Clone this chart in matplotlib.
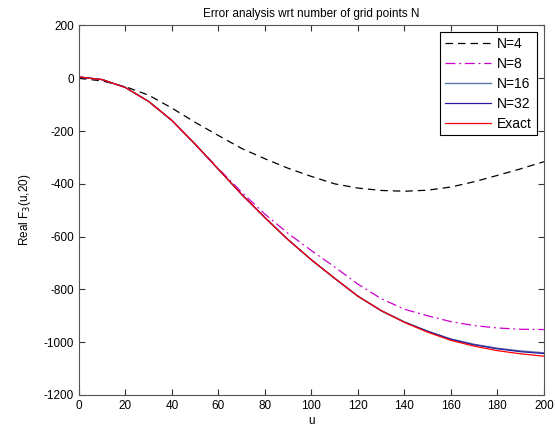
import matplotlib
matplotlib.use("Agg")
import matplotlib.pyplot as plt

# -------------------------------
# data
# -------------------------------
u = [0, 10, 20, 30, 40, 50, 60, 70, 80, 90, 100,
     110, 120, 130, 140, 150, 160, 170, 180, 190, 200]

n4 = [0, -10, -32, -64, -113, -167, -217, -266, -305, -341, -372,
      -400, -416, -425, -428, -424, -412, -392, -368, -343, -316]

n8 = [5, -5, -35, -88, -160, -250, -342, -432, -515, -588, -653,
      -715, -780, -835, -875, -900, -922, -937, -946, -951, -952]

n16 = [5, -5, -35, -88, -160, -250, -345, -440, -528, -612, -688,
       -758, -825, -880, -923, -958, -988, -1008, -1023, -1033, -1040]

n32 = [5, -5, -35, -88, -160, -250, -345, -440, -528, -612, -688,
       -758, -826, -881, -924, -959, -989, -1010, -1025, -1036, -1043]

exact = [5, -5, -35, -88, -160, -250, -345, -440, -528, -612, -688,
         -758, -826, -880, -925, -962, -993, -1015, -1032, -1044, -1053]

xticks = list(range(0, 201, 20))
yticks = list(range(-1200, 201, 200))

plt.rcParams['font.family'] = ['Liberation Sans', 'DejaVu Sans']
plt.rcParams['font.size'] = 8.5
plt.rcParams['axes.unicode_minus'] = False

fig = plt.figure(figsize=(5.55, 4.3), dpi=100)
ax = fig.add_axes([0.1423, 0.0814, 0.8377, 0.8593])

ax.plot(u, n4, color='black', linestyle=(0, (6, 4)), lw=0.9, label='N=4')
ax.plot(u, n8, color='#cc00cc', linestyle=(0, (8, 3, 1.5, 3)), lw=0.9, label='N=8')
ax.plot(u, n16, color='#5b77a8', lw=1.0, label='N=16')
ax.plot(u, n32, color='#2a1aa0', lw=0.9, label='N=32')
ax.plot(u, exact, color='red', lw=0.9, label='Exact')

ax.set_xlim(0, 200)
ax.set_ylim(-1200, 200)
ax.set_xticks(xticks)
ax.set_yticks(yticks)
ax.tick_params(direction='in', top=True, right=True, length=4,
               width=0.8, colors='#333333', labelcolor='black')
for s in ax.spines.values():
    s.set_color('#555555')
    s.set_linewidth(0.8)

ax.set_title('Error analysis wrt number of grid points N', fontsize=8.5, pad=6)
ax.set_xlabel('u', labelpad=2)
ax.set_ylabel('Real F$_3$(u,20)', labelpad=8)

leg = ax.legend(loc='upper right', fancybox=False, framealpha=1,
                edgecolor='black', handlelength=3.3, handletextpad=0.45,
                borderaxespad=0.5, borderpad=0.35, labelspacing=0.42,
                fontsize=10)
leg.get_frame().set_linewidth(0.8)

fig.savefig('out.png', dpi=100)
